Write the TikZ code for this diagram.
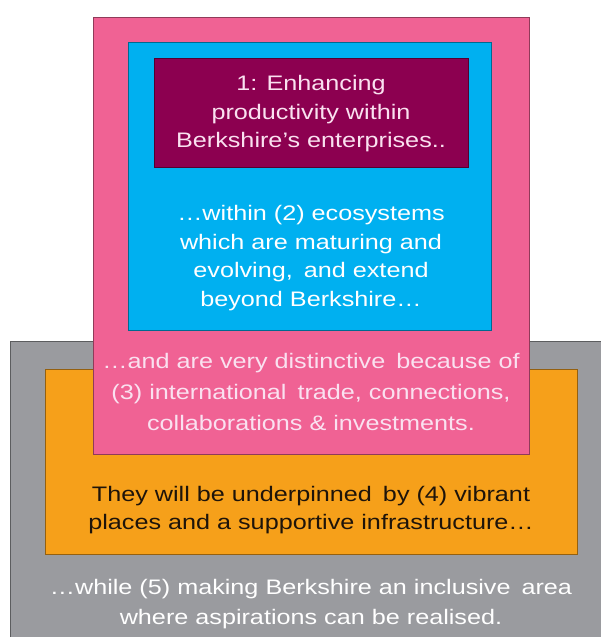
\documentclass[tikz,border=0pt]{standalone}
\usepackage{fontspec}
\setmainfont[FakeStretch=1.2]{Liberation Sans}
\newcommand{\widegap}{\hspace{4pt}}
\tikzset{
  layer/.style={draw=#1!60!black,line width=0.8pt,inner sep=0pt,outer sep=0pt,anchor=south west},
  caption/.style={align=center,inner sep=0pt,outer sep=0pt,font=\fontsize{21}{28.5}\selectfont}
}
\begin{document}
\begin{tikzpicture}[x=1pt,y=1pt]
\definecolor{grayLayer}{RGB}{154,155,159}
\definecolor{orangeLayer}{RGB}{246,160,26}
\definecolor{pinkLayer}{RGB}{240,98,148}
\definecolor{blueLayer}{RGB}{0,176,240}
\definecolor{plumLayer}{RGB}{140,0,80}
\definecolor{paleText}{RGB}{250,225,240}
\definecolor{darkText}{RGB}{30,20,10}
\path[use as bounding box,fill=white] (0,0) rectangle (601,637);
\clip (0,0) rectangle (601,637);

% nested layers, outermost first
\node[layer=grayLayer,fill=grayLayer,minimum width=600,minimum height=300] (inclusive) at (10,-4) {};
\node[layer=orangeLayer,fill=orangeLayer,minimum width=532,minimum height=185] (places) at (45,83) {};
\node[layer=pinkLayer,fill=pinkLayer,minimum width=436,minimum height=437] (trade) at (93,183) {};
\node[layer=blueLayer,fill=blueLayer,minimum width=363,minimum height=288] (ecosystems) at (128,307) {};
\node[layer=plumLayer,fill=plumLayer,minimum width=314,minimum height=109] (productivity) at (154,470) {};

% texts
\node[caption,text=paleText] (productivity text) at (311,523)
  {1: Enhancing\\productivity within\\Berkshire’s enterprises..};
\node[caption,text=white] (ecosystems text) at (311,379)
  {…within (2) ecosystems\\which are maturing and\\evolving,\widegap{} and extend\\beyond Berkshire…};
\node[caption,text=paleText,font=\fontsize{21}{31}\selectfont] (trade text) at (311,245)
  {…and are very distinctive\widegap{} because of\\(3) international\widegap{} trade, connections,\\collaborations \& investments.};
\node[caption,text=darkText] (places text) at (311,127)
  {They will be underpinned\widegap{} by (4) vibrant\\places and a supportive infrastructure…};
\node[caption,text=white,font=\fontsize{21}{30}\selectfont] (inclusive text) at (311,33)
  {…while (5) making Berkshire an inclusive\widegap{} area\\where aspirations can be realised.};
\end{tikzpicture}
\end{document}
